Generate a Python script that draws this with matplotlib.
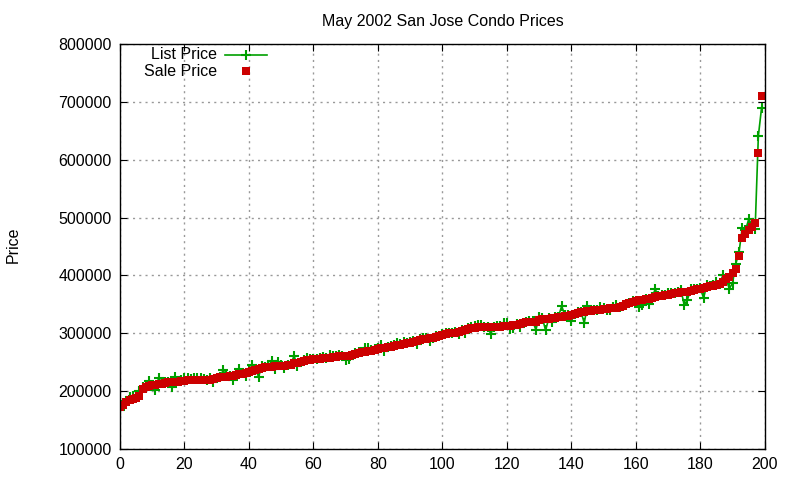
import numpy as np
import matplotlib.pyplot as plt

plt.rcParams['font.family'] = ['Liberation Sans', 'DejaVu Sans']

# prices in thousands of dollars, sorted by sale price
sale_k = [173, 176, 182, 185, 187, 189, 192, 204, 207, 209,
          210, 211, 212, 213, 214, 215, 215, 216, 216, 217,
          218, 219, 220, 220, 220, 220, 220, 220, 220, 221,
          222, 225, 225, 225, 226, 227, 228, 229, 230, 231,
          233, 235, 237, 239, 240, 241, 242, 242, 243, 243,
          244, 244, 245, 246, 248, 249, 250, 252, 253, 254,
          255, 255, 256, 257, 258, 258, 259, 259, 260, 260,
          260, 261, 263, 265, 266, 267, 268, 269, 270, 271,
          273, 274, 275, 276, 277, 278, 279, 280, 281, 283,
          284, 285, 287, 289, 290, 290, 291, 292, 294, 295,
          297, 299, 300, 300, 301, 303, 304, 306, 308, 309,
          309, 310, 310, 310, 310, 310, 310, 311, 311, 312,
          313, 313, 314, 315, 316, 317, 319, 320, 320, 320,
          323, 324, 325, 325, 326, 327, 328, 329, 330, 330,
          332, 333, 335, 336, 337, 338, 339, 340, 340, 341,
          342, 342, 343, 344, 344, 345, 347, 350, 352, 354,
          355, 357, 358, 359, 360, 361, 362, 364, 365, 366,
          367, 368, 369, 370, 371, 372, 372, 373, 375, 376,
          377, 378, 380, 381, 382, 383, 385, 388, 393, 398,
          404, 411, 434, 465, 472, 478, 483, 490, 612, 710]

list_k = [167, 178, 183, 190, 192, 190, 200, 208, 209, 218,
          211, 202, 223, 214, 215, 216, 208, 225, 217, 219,
          223, 223, 221, 223, 223, 223, 221, 220, 222, 216,
          222, 225, 236, 226, 227, 219, 229, 239, 231, 226,
          234, 246, 238, 225, 244, 242, 243, 252, 239, 250,
          245, 240, 246, 247, 261, 244, 251, 253, 257, 255,
          256, 256, 257, 259, 258, 262, 260, 260, 263, 261,
          254, 256, 263, 266, 267, 268, 274, 275, 271, 272,
          274, 280, 270, 277, 278, 279, 283, 281, 285, 284,
          285, 286, 281, 290, 291, 291, 286, 292, 296, 296,
          298, 300, 301, 301, 302, 298, 306, 300, 309, 310,
          313, 314, 314, 311, 311, 299, 311, 312, 312, 318,
          318, 308, 309, 316, 310, 318, 320, 321, 321, 306,
          329, 327, 305, 326, 319, 328, 329, 347, 331, 331,
          321, 334, 336, 337, 318, 348, 340, 341, 341, 345,
          343, 340, 341, 345, 349, 346, 348, 351, 353, 355,
          356, 346, 349, 360, 350, 362, 376, 365, 366, 367,
          370, 369, 370, 371, 375, 349, 358, 376, 376, 377,
          378, 361, 383, 382, 383, 388, 386, 400, 394, 377,
          387, 420, 440, 482, 478, 497, 488, 480, 641, 690]

sale = np.array(sale_k) * 1000
list_price = np.array(list_k) * 1000
idx = np.arange(len(sale))

green = '#00a000'
red = '#cc0000'

fig = plt.figure(figsize=(8, 4.8), dpi=100)
ax = fig.add_axes([0.15, 0.0646, 0.806, 0.8437])

ax.plot(idx, list_price, color=green, lw=1.2, marker='+', ms=7.5, mew=1.5)
ax.plot(idx, sale, color=red, ls='none', marker='s', ms=6, mew=0)

ax.set_xlim(0, 200)
ax.set_ylim(100000, 800000)
ax.set_xticks(range(0, 201, 20))
ax.set_yticks(range(100000, 800001, 100000))
ax.tick_params(direction='in', length=5, top=True, right=True, labelsize=11.5, pad=6)
ax.grid(True, color='#999999', ls=(0, (1.5, 3)), lw=1)
for s in ax.spines.values():
    s.set_linewidth(1)

ax.set_title('May 2002 San Jose Condo Prices', fontsize=11.5, pad=13)
fig.text(0.016, 0.49, 'Price', rotation=90, fontsize=11.5, ha='center', va='center')

# key, gnuplot style
ax.text(0.150, 0.973, 'List Price', transform=ax.transAxes, ha='right', va='center', fontsize=11.5)
ax.plot([0.163, 0.228], [0.973, 0.973], transform=ax.transAxes, color=green, lw=1.2, clip_on=False)
ax.plot([0.195], [0.973], transform=ax.transAxes, color=green, marker='+', ms=7.5, mew=1.5, clip_on=False)
ax.text(0.150, 0.933, 'Sale Price', transform=ax.transAxes, ha='right', va='center', fontsize=11.5)
ax.plot([0.195], [0.933], transform=ax.transAxes, color=red, marker='s', ms=6, mew=0, clip_on=False)

fig.savefig('out.png', dpi=100)
